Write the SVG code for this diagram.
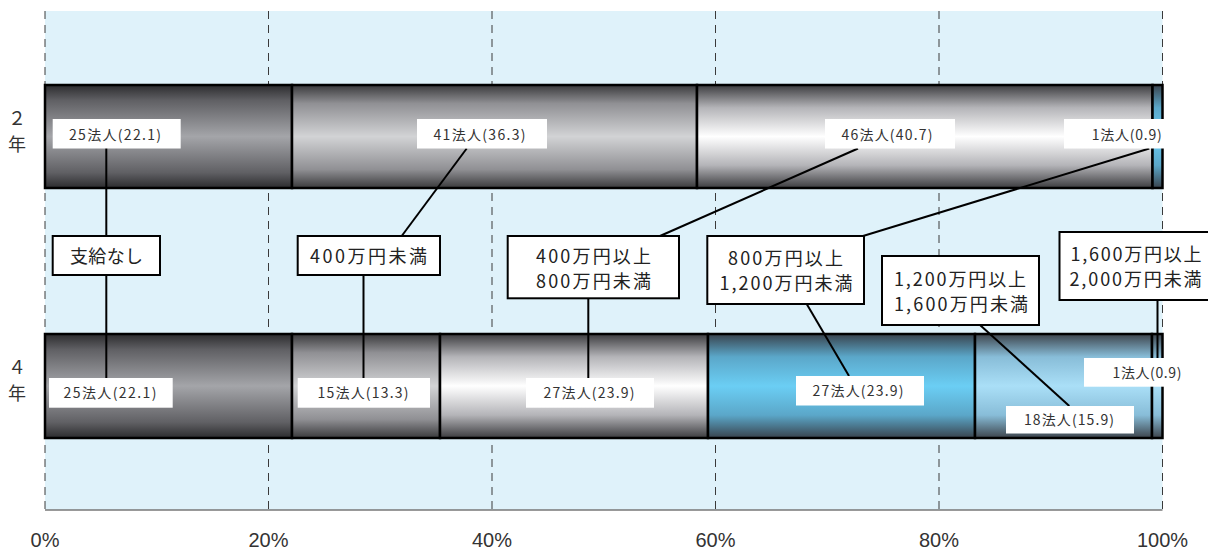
<svg xmlns="http://www.w3.org/2000/svg" width="1208" height="549" viewBox="0 0 1208 549">
  <style>
    .grid { stroke: #3a3a3a; stroke-width: 1; stroke-dasharray: 8 6; }
    .seg { stroke: #000; stroke-width: 2.5; }
    .lead { stroke: #000; stroke-width: 2; fill: none; }
    .vbox { fill: #fff; }
    .cbox { fill: #fff; stroke: #000; stroke-width: 2; }
    .vt { font-family: "Noto Sans CJK JP", "Noto Sans", sans-serif; font-size: 14px; fill: #333; text-anchor: middle; }
    .ct { font-family: "Noto Sans CJK JP", "Noto Sans", sans-serif; font-size: 18px; fill: #222; text-anchor: middle; }
    .yt { font-family: "Noto Sans CJK JP", sans-serif; font-size: 18px; fill: #333; text-anchor: middle; }
    .xt { font-family: "Liberation Sans", Arial, sans-serif; font-size: 20px; fill: #333; text-anchor: middle; }
  </style>
  <defs>
    <linearGradient id="gDark" x1="0" y1="0" x2="0" y2="1">
      <stop offset="0" stop-color="#2c2c2e"/>
      <stop offset="0.15" stop-color="#606064"/>
      <stop offset="0.5" stop-color="#a4a5a9"/>
      <stop offset="0.85" stop-color="#606064"/>
      <stop offset="1" stop-color="#2c2c2e"/>
    </linearGradient>
    <linearGradient id="gMid" x1="0" y1="0" x2="0" y2="1">
      <stop offset="0" stop-color="#3a3a3c"/>
      <stop offset="0.18" stop-color="#909094"/>
      <stop offset="0.5" stop-color="#d2d3d5"/>
      <stop offset="0.82" stop-color="#909094"/>
      <stop offset="1" stop-color="#3a3a3c"/>
    </linearGradient>
    <linearGradient id="gLight" x1="0" y1="0" x2="0" y2="1">
      <stop offset="0" stop-color="#3c3c3f"/>
      <stop offset="0.22" stop-color="#b4b4b8"/>
      <stop offset="0.5" stop-color="#ffffff"/>
      <stop offset="0.78" stop-color="#b4b4b8"/>
      <stop offset="1" stop-color="#3c3c3f"/>
    </linearGradient>
    <linearGradient id="gBlue" x1="0" y1="0" x2="0" y2="1">
      <stop offset="0" stop-color="#39434d"/>
      <stop offset="0.22" stop-color="#5ba7c9"/>
      <stop offset="0.5" stop-color="#6bcef4"/>
      <stop offset="0.78" stop-color="#5ba7c9"/>
      <stop offset="1" stop-color="#39434d"/>
    </linearGradient>
    <linearGradient id="gPale" x1="0" y1="0" x2="0" y2="1">
      <stop offset="0" stop-color="#3d444c"/>
      <stop offset="0.22" stop-color="#88bdd8"/>
      <stop offset="0.5" stop-color="#aadff7"/>
      <stop offset="0.78" stop-color="#88bdd8"/>
      <stop offset="1" stop-color="#3d444c"/>
    </linearGradient>
  </defs>

  <!-- plot area -->
  <g id="plot">
    <rect x="45" y="11" width="1117.5" height="499" fill="#dff2fa"/>
    <line x1="45" y1="510" x2="1162.5" y2="510" stroke="#777" stroke-width="1.5"/>
    <line class="grid" x1="45" y1="11" x2="45" y2="510"/>
    <line class="grid" x1="268.5" y1="11" x2="268.5" y2="510"/>
    <line class="grid" x1="492" y1="11" x2="492" y2="510"/>
    <line class="grid" x1="715.5" y1="11" x2="715.5" y2="510"/>
    <line class="grid" x1="939" y1="11" x2="939" y2="510"/>
    <line class="grid" x1="1162.5" y1="11" x2="1162.5" y2="510"/>
  </g>

  <!-- year 2 bar -->
  <g id="bar-y2">
    <rect class="seg" x="45" y="85" width="247" height="103" fill="url(#gDark)"/>
    <rect class="seg" x="292" y="85" width="405" height="103" fill="url(#gMid)"/>
    <rect class="seg" x="697" y="85" width="455.5" height="103" fill="url(#gLight)"/>
    <rect class="seg" x="1152.5" y="85" width="10" height="103" fill="url(#gBlue)"/>
  </g>

  <!-- year 4 bar -->
  <g id="bar-y4">
    <rect class="seg" x="45" y="334" width="247" height="104" fill="url(#gDark)"/>
    <rect class="seg" x="292" y="334" width="148" height="104" fill="url(#gMid)"/>
    <rect class="seg" x="440" y="334" width="268" height="104" fill="url(#gLight)"/>
    <rect class="seg" x="708" y="334" width="267" height="104" fill="url(#gBlue)"/>
    <rect class="seg" x="975" y="334" width="177" height="104" fill="url(#gPale)"/>
    <rect class="seg" x="1152" y="334" width="10.5" height="104" fill="url(#gPale)"/>
  </g>

  <!-- leader lines -->
  <g id="connectors">
    <line class="lead" x1="106.3" y1="148" x2="106.3" y2="378"/>
    <line class="lead" x1="466.7" y1="148.5" x2="401.7" y2="236"/>
    <line class="lead" x1="363.5" y1="275" x2="363.5" y2="378"/>
    <line class="lead" x1="858" y1="148.5" x2="660" y2="236"/>
    <line class="lead" x1="588.3" y1="298" x2="588.3" y2="378"/>
    <line class="lead" x1="1149.3" y1="148.5" x2="863" y2="236"/>
    <line class="lead" x1="806.7" y1="304" x2="849" y2="376"/>
    <line class="lead" x1="980" y1="325" x2="1069.3" y2="406"/>
    <line class="lead" x1="1157.5" y1="300" x2="1157.5" y2="358"/>
  </g>

  <!-- value labels, year 2 -->
  <g id="val-y2-none">
    <rect class="vbox" x="52.7" y="119" width="128" height="29.5"/>
    <text class="vt" x="115" y="139.5" textLength="92">25法人(22.1)</text>
  </g>
  <g id="val-y2-u400">
    <rect class="vbox" x="417" y="119" width="130" height="29.5"/>
    <text class="vt" x="479.5" y="139.5" textLength="92">41法人(36.3)</text>
  </g>
  <g id="val-y2-400">
    <rect class="vbox" x="825" y="119" width="130" height="29.5"/>
    <text class="vt" x="887" y="139.5" textLength="91">46法人(40.7)</text>
  </g>
  <g id="val-y2-800">
    <rect class="vbox" x="1064" y="119" width="100" height="29.5"/>
    <text class="vt" x="1126.7" y="139.5" textLength="70">1法人(0.9)</text>
  </g>

  <!-- value labels, year 4 -->
  <g id="val-y4-none">
    <rect class="vbox" x="49" y="378" width="123.7" height="29.7"/>
    <text class="vt" x="110" y="398" textLength="93">25法人(22.1)</text>
  </g>
  <g id="val-y4-u400">
    <rect class="vbox" x="297.7" y="378" width="132.3" height="29.7"/>
    <text class="vt" x="363" y="398" textLength="91">15法人(13.3)</text>
  </g>
  <g id="val-y4-400">
    <rect class="vbox" x="526" y="378" width="128" height="29.7"/>
    <text class="vt" x="589" y="398" textLength="91">27法人(23.9)</text>
  </g>
  <g id="val-y4-800">
    <rect class="vbox" x="796" y="376" width="128" height="29.5"/>
    <text class="vt" x="858" y="395.5" textLength="91">27法人(23.9)</text>
  </g>
  <g id="val-y4-1200">
    <rect class="vbox" x="1006" y="406" width="128" height="27.5"/>
    <text class="vt" x="1069" y="425" textLength="90">18法人(15.9)</text>
  </g>
  <g id="val-y4-1600">
    <rect class="vbox" x="1084" y="358" width="106" height="28.7"/>
    <text class="vt" x="1147" y="377.5" textLength="69">1法人(0.9)</text>
  </g>

  <!-- category boxes -->
  <g id="cat-none">
    <rect class="cbox" x="52.7" y="236" width="107.3" height="39"/>
    <text class="ct" x="106.5" y="263" textLength="73">支給なし</text>
  </g>
  <g id="cat-u400">
    <rect class="cbox" x="297.7" y="236" width="142.3" height="39"/>
    <text class="ct" x="368.5" y="263" textLength="117">400万円未満</text>
  </g>
  <g id="cat-400-800">
    <rect class="cbox" x="507.7" y="236" width="171.3" height="62.3"/>
    <text class="ct" x="593.5" y="263" textLength="115">400万円以上</text>
    <text class="ct" x="593.5" y="288" textLength="115">800万円未満</text>
  </g>
  <g id="cat-800-1200">
    <rect class="cbox" x="707.3" y="236" width="156.7" height="68"/>
    <text class="ct" x="785.5" y="265" textLength="115">800万円以上</text>
    <text class="ct" x="786" y="290" textLength="133">1,200万円未満</text>
  </g>
  <g id="cat-1200-1600">
    <rect class="cbox" x="882" y="256" width="157" height="69"/>
    <text class="ct" x="960" y="286" textLength="132">1,200万円以上</text>
    <text class="ct" x="961" y="311" textLength="134">1,600万円未満</text>
  </g>
  <g id="cat-1600-2000">
    <rect class="cbox" x="1059.5" y="232" width="152" height="68"/>
    <text class="ct" x="1136" y="260.5" textLength="131">1,600万円以上</text>
    <text class="ct" x="1135.5" y="285.5" textLength="132">2,000万円未満</text>
  </g>

  <!-- year axis -->
  <g id="year-axis">
    <text class="yt" x="17" y="124.5">２</text>
    <text class="yt" x="17" y="150.5">年</text>
    <text class="yt" x="17" y="373.5">４</text>
    <text class="yt" x="17" y="399.5">年</text>
  </g>

  <!-- percent axis -->
  <g id="pct-axis">
    <text class="xt" x="45" y="547">0%</text>
    <text class="xt" x="268.5" y="547">20%</text>
    <text class="xt" x="492" y="547">40%</text>
    <text class="xt" x="715.5" y="547">60%</text>
    <text class="xt" x="939" y="547">80%</text>
    <text class="xt" x="1162.5" y="547">100%</text>
  </g>
</svg>
